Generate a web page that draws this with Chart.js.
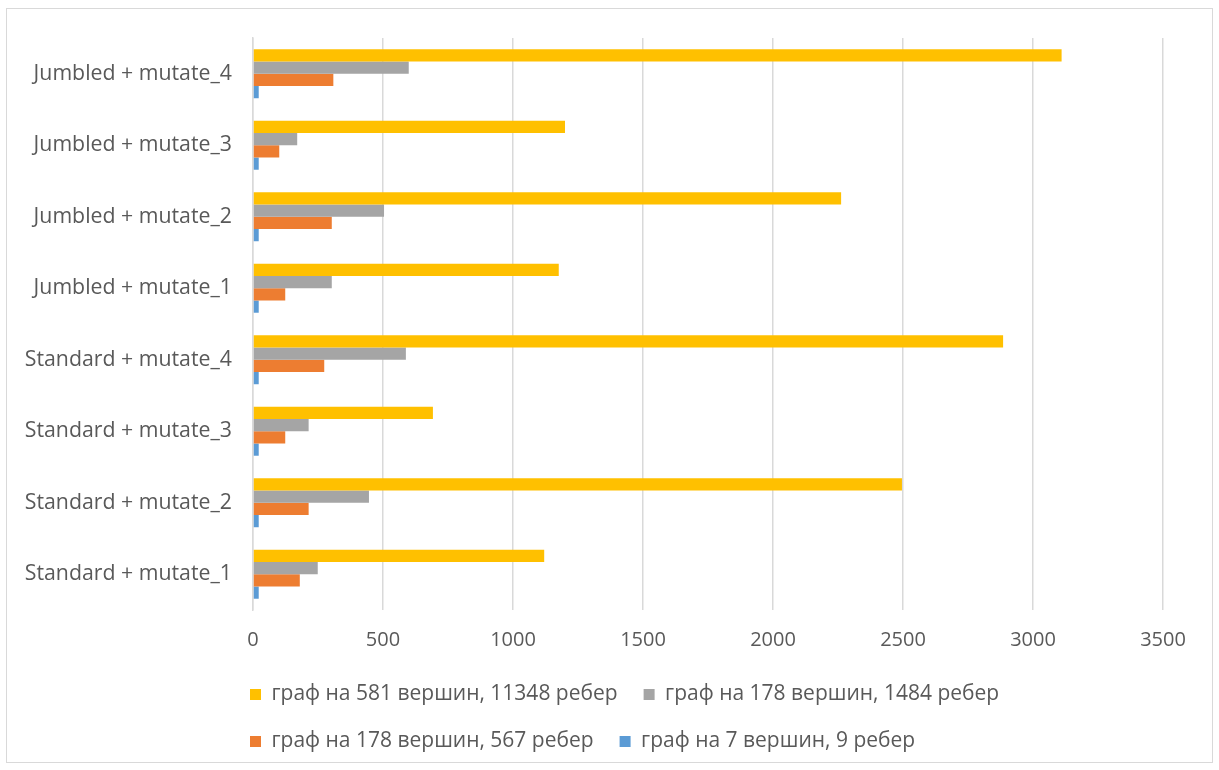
<!DOCTYPE html>
<html>
<head>
<meta charset="utf-8">
<script src="https://cdn.jsdelivr.net/npm/chart.js@4/dist/chart.umd.min.js"></script>
<style>
  html, body { margin: 0; padding: 0; background: #ffffff; }
  #wrap { position: relative; width: 1219px; height: 770px; }
</style>
</head>
<body>
<div id="wrap"><canvas id="c" width="1219" height="770"></canvas></div>
<script>
const categories = [
  'Jumbled + mutate_4',
  'Jumbled + mutate_3',
  'Jumbled + mutate_2',
  'Jumbled + mutate_1',
  'Standard + mutate_4',
  'Standard + mutate_3',
  'Standard + mutate_2',
  'Standard + mutate_1'
];
const seriesLabels = [
  'граф на 581 вершин, 11348 ребер',
  'граф на 178 вершин, 1484 ребер',
  'граф на 178 вершин, 567 ребер',
  'граф на 7 вершин, 9 ребер'
];
const graph581 = [3110, 1200, 2262, 1176, 2885, 692, 2496, 1120];
const graph178e1484 = [599, 170, 504, 303, 588, 214, 446, 249];
const graph178e567 = [309, 101, 303, 124, 274, 124, 214, 180];
const graph7 = [22, 22, 22, 22, 22, 22, 22, 22];
const xTicks = [0, 500, 1000, 1500, 2000, 2500, 3000, 3500];

const colors = ['#FFC000', '#A5A5A5', '#ED7D31', '#5B9BD5'];
const seriesData = [graph581, graph178e1484, graph178e567, graph7];
const FONT = '"Open Sans", Lato, sans-serif';
const TEXT = '#595959';

const frame = {
  id: 'frame',
  beforeDraw(chart) {
    const ctx = chart.ctx;
    ctx.save();
    ctx.fillStyle = '#ffffff';
    ctx.fillRect(0, 0, chart.width, chart.height);
    ctx.strokeStyle = '#d9d9d9';
    ctx.lineWidth = 1;
    ctx.strokeRect(6.5, 8.5, 1206, 754);
    ctx.restore();
  }
};

// shift legend so its first box starts just left of the value axis, like the original
const legendShift = {
  id: 'legendShift',
  afterLayout(chart) {
    const lg = chart.legend;
    if (lg) {
      const pad = lg.options.labels.padding;
      const dx = (chart.chartArea.left - 3) - (lg.left + pad);
      lg.left += dx;
      lg.right += dx;
    }
  }
};

new Chart(document.getElementById('c'), {
  type: 'bar',
  data: {
    labels: categories,
    datasets: seriesData.map((d, i) => ({
      label: seriesLabels[i],
      data: d,
      backgroundColor: colors[i],
      borderWidth: 0,
      categoryPercentage: 0.685,
      barPercentage: 1.0
    }))
  },
  options: {
    indexAxis: 'y',
    responsive: false,
    animation: false,
    layout: { padding: { top: 38, left: 10, right: 56, bottom: 8 } },
    scales: {
      x: {
        min: 0, max: 3500,
        afterBuildTicks(scale) { scale.ticks = xTicks.map(v => ({ value: v })); },
        afterFit(scale) { scale.height = 48; },
        grid: { color: '#d9d9d9', lineWidth: 1.5, drawTicks: false },
        border: { display: false },
        ticks: {
          color: TEXT,
          font: { family: FONT, size: 20 },
          padding: 18,
          callback: (v) => String(v)
        }
      },
      y: {
        afterFit(scale) { scale.width = 243; },
        grid: { drawOnChartArea: false, drawTicks: false },
        border: { display: true, color: '#d9d9d9', width: 1.5 },
        ticks: { color: TEXT, font: { family: FONT, size: 21.3 }, padding: 21 }
      }
    },
    plugins: {
      tooltip: { enabled: false },
      legend: {
        position: 'bottom',
        align: 'start',
        fullSize: false,
        labels: {
          color: TEXT,
          font: { family: FONT, size: 21 },
          boxWidth: 11,
          boxHeight: 11,
          padding: 26
        }
      }
    }
  },
  plugins: [frame, legendShift]
});
</script>
</body>
</html>
